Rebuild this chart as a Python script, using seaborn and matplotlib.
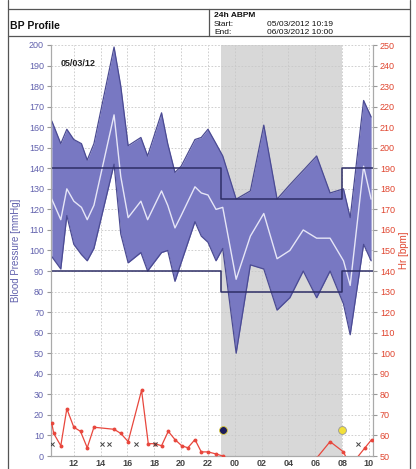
import numpy as np
import pandas as pd
import seaborn as sns
import matplotlib
matplotlib.use('Agg')
import matplotlib.pyplot as plt
from matplotlib.lines import Line2D

# BP readings (hours since midnight of 05/03, >24 = next day)
bp_hours = [10.36, 11.03, 11.48, 12.0, 12.57, 13.0, 13.5, 15.0, 15.5, 16.05, 17.0, 17.5,
            18.54, 19.0, 19.54, 20.0, 21.03, 21.5, 22.0, 22.6, 23.1, 24.1, 25.16, 26.16,
            27.15, 28.1, 29.1, 30.1, 31.1, 32.1, 32.6, 33.6, 34.16]
systolic = [163, 152, 159, 154, 152, 144, 152, 199, 180, 151, 155, 146,
            167, 152, 138, 141, 154, 155, 159, 152, 146, 125, 129, 161,
            125, 132, 139, 146, 128, 130, 116, 173, 165]
mean_bp = [125, 115, 130, 124, 121, 115, 122, 166, 136, 116, 124, 115,
           129, 122, 111, 117, 131, 128, 127, 120, 121, 86, 107, 118,
           96, 100, 110, 106, 106, 95, 83, 141, 125]
diastolic = [97, 91, 117, 103, 98, 95, 101, 142, 108, 94, 99, 90,
             99, 100, 85, 94, 114, 107, 104, 95, 101, 50, 93, 91,
             71, 77, 90, 77, 90, 74, 59, 103, 95]

# heart rate
hr_hours = [10.36, 10.5, 11.03, 11.48, 12.0, 12.5, 13.0, 13.5, 15.0, 15.5, 16.05, 17.05,
            17.55, 18.04, 18.54, 19.04, 19.54, 20.04, 20.5, 21.03, 21.5, 22.0, 22.6, 23.1,
            24.1, 25.16, 26.16, 27.15, 28.1, 29.1, 30.1, 31.1, 32.1, 32.6, 33.7, 34.2]
hr = [66, 61, 55, 73, 64, 62, 54, 64, 63, 61, 57, 82,
      56, 56, 55, 62, 58, 55, 54, 58, 52, 52, 51, 50,
      45, 44, 46, 43, 44, 46, 49, 57, 52, 45, 54, 58]

# failed readings
miss_hours = [10.4, 14.07, 14.6, 16.6, 18.04, 33.2]
miss_hr = [56, 56, 56, 56, 56, 56]

# thresholds (day / night / day)
limit_hours = [10.3, 23.0, 23.0, 32.0, 32.0, 34.3]
limit_sys = [140, 140, 125, 125, 140, 140]
limit_dia = [90, 90, 80, 80, 90, 90]
night = (23.0, 32.0)

tick_hours = [12, 14, 16, 18, 20, 22, 24, 26, 28, 30, 32, 34]
tick_labels = ['12', '14', '16', '18', '20', '22', '00', '02', '04', '06', '08', '10']

bp = pd.DataFrame({'hour': bp_hours, 'sys': systolic, 'mean': mean_bp, 'dia': diastolic})
hrdf = pd.DataFrame({'hour': hr_hours, 'hr': hr})
miss = pd.DataFrame({'hour': miss_hours, 'hr': miss_hr})

sns.set_style('white')
plt.rcParams['font.family'] = ['Liberation Sans', 'DejaVu Sans']

blue_txt = '#6161ad'
red_txt = '#e0452f'
fill_c = '#7878c2'
edge_c = '#4b4b93'

fig = plt.figure(figsize=(4.16, 4.69), dpi=100)
ax = fig.add_axes([51 / 416, 1 - 456 / 469, 322 / 416, 411 / 469])

ax.axvspan(night[0], night[1], color='#d8d8d8', zorder=0, lw=0)
ax.fill_between(bp['hour'], bp['dia'], bp['sys'], color=fill_c, zorder=2, lw=0)
ax.plot(bp['hour'], bp['sys'], color=edge_c, lw=0.9, zorder=3)
ax.plot(bp['hour'], bp['dia'], color=edge_c, lw=0.9, zorder=3)
sns.lineplot(data=bp, x='hour', y='mean', color='#e6e6f7', lw=1.0, ax=ax, zorder=4)
ax.plot(limit_hours, limit_sys, color='#2e2e66', lw=1.1, zorder=5)
ax.plot(limit_hours, limit_dia, color='#2e2e66', lw=1.1, zorder=5)

ax.set_xlim(10.3, 34.3)
ax.set_ylim(0, 200)
ax.set_yticks(range(0, 201, 10))
ax.set_xticks(tick_hours)
ax.set_xticklabels(tick_labels, fontweight='bold')
ax.grid(True, color='#c8c8c8', ls=(0, (2, 2)), lw=0.6)
ax.set_axisbelow(True)
ax.set_xlabel('')
ax.set_ylabel('Blood Pressure [mmHg]', color=blue_txt, fontsize=7, labelpad=6)
ax.tick_params(axis='y', colors='#999999', labelcolor=blue_txt, labelsize=6.5, length=3, pad=2)
ax.tick_params(axis='x', colors='#999999', labelcolor='#444444', labelsize=6.5, length=0, pad=2)
for s in ['left', 'right', 'bottom']:
    ax.spines[s].set_color('#aaaaaa')
    ax.spines[s].set_linewidth(0.8)
ax.spines['top'].set_visible(False)
ax.text(0.03, 0.965, '05/03/12', transform=ax.transAxes, fontsize=6.5,
        fontweight='bold', color='#222222', va='top')

ax2 = ax.twinx()
sns.lineplot(data=hrdf, x='hour', y='hr', color='#e8473d', lw=0.9, marker='o',
             markersize=2.8, markeredgewidth=0, ax=ax2, zorder=6)
sns.scatterplot(data=miss, x='hour', y='hr', marker='x', color='#444444', s=9,
                linewidth=0.7, ax=ax2, zorder=6)
ax2.scatter([23.15], [62.7], s=32, color='#1c1c5c', edgecolor='#d9c83a', lw=0.6, zorder=7)
ax2.scatter([32.0], [62.7], s=32, color='#f2e03a', edgecolor='#999999', lw=0.6, zorder=7)
ax2.set_ylim(50, 250)
ax2.set_yticks(range(50, 251, 10))
ax2.set_xlim(10.3, 34.3)
ax2.set_xlabel('')
ax2.set_ylabel('Hr [bpm]', color=red_txt, fontsize=7, labelpad=3)
ax2.tick_params(axis='y', colors='#999999', labelcolor=red_txt, labelsize=6.5, length=3, pad=2)
for s in ['left', 'right', 'bottom']:
    ax2.spines[s].set_color('#aaaaaa')
    ax2.spines[s].set_linewidth(0.8)
ax2.spines['top'].set_visible(False)

# header box
def fline(x0, y0, x1, y1, lw=0.9, c='#555555'):
    fig.add_artist(Line2D([x0 / 416, x1 / 416], [1 - y0 / 469, 1 - y1 / 469],
                          color=c, lw=lw, transform=fig.transFigure))

fline(8, 0, 8, 469)
fline(410, 0, 410, 469)
fline(8, 9.5, 410, 9.5)
fline(8, 36.5, 410, 36.5)
fline(209, 9.5, 209, 36.5)

fig.text(10 / 416, 1 - 26 / 469, 'BP Profile', fontsize=7.5, fontweight='bold',
         va='center', color='#111111')
fig.text(214 / 416, 1 - 15.5 / 469, '24h ABPM', fontsize=6, fontweight='bold',
         va='center', color='#111111')
fig.text(214 / 416, 1 - 24 / 469, 'Start:', fontsize=6, va='center', color='#111111')
fig.text(214 / 416, 1 - 32 / 469, 'End:', fontsize=6, va='center', color='#111111')
fig.text(267 / 416, 1 - 24 / 469, '05/03/2012 10:19', fontsize=6, va='center', color='#111111')
fig.text(267 / 416, 1 - 32 / 469, '06/03/2012 10:00', fontsize=6, va='center', color='#111111')

fig.savefig('out.png', dpi=100)
